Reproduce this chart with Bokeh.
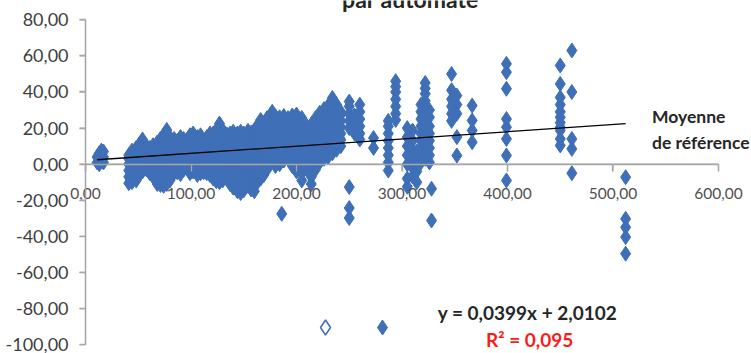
from bokeh.plotting import figure
from bokeh.models import Range1d, FixedTicker, CustomJSTickFormatter, Label, ColumnDataSource
from bokeh.embed import file_html
from bokeh.resources import INLINE

# ---- data: columns of points (x, list of y) ----
col_x = [11, 13, 15, 17, 41, 44, 48, 51, 54, 58, 61, 64, 68, 71, 74, 77, 80, 84, 87, 90,
         93, 96, 99, 102, 106, 109, 112, 115, 118, 121, 124, 127, 130, 134, 137, 140, 144,
         147, 150, 154, 157, 160, 163, 166, 169, 172, 175, 177, 180, 184, 186, 188, 192,
         196, 200, 205, 210, 214, 218, 222, 226, 230, 234, 238, 242, 250, 255, 260, 273,
         281.5, 287, 294, 305, 310, 314, 318, 322, 326, 328, 347, 352, 366.5, 399, 450,
         461, 512]
col_y = [
    [1, 4], [0, 3, 6], [2, 5, 7.5], [1, 4, 7],
    [-10.5, -7, -3.5, 0, 3, 5],
    [-10, -6.5, -3, 0.5, 4, 7.5],
    [-9, -5, -1.5, 2, 5.5, 9],
    [-6, -2.5, 1, 4.5, 8, 11],
    [-4, -0.5, 3, 6.5, 10, 13.7],
    [-3, 0.5, 4, 7, 10],
    [-5, -1.5, 2, 5.5, 9],
    [-7, -3.5, 0, 3.5, 7, 10.5],
    [-11, -7.5, -4, -0.5, 3, 6.5, 10, 12],
    [-11.5, -8, -4.5, -1, 2.5, 6, 9.5, 14],
    [-12, -8.5, -5, -1.5, 2, 5.5, 9, 12.5, 16],
    [-11, -7.5, -2, 1.5, 5, 8.5, 12, 15.5, 19],
    [-9, -5.5, -2, 1.5, 5, 8.5, 12, 15],
    [-5, -1.5, 2, 5.5, 9, 12.5, 14],
    [-4.5, -1, 2.5, 6, 9.5, 13],
    [-5.5, -2, 1.5, 5, 8.5, 12, 15],
    [-3, 0.5, 4, 7.5, 11, 14],
    [-1, 2.5, 6, 9.5, 13],
    [-5, -1.5, 2, 5.5, 9, 12.5, 16],
    [-4, 0, 3.5, 7, 10.5, 14, 17],
    [-6, -2.5, 1, 4.5, 8, 11.5, 15],
    [-5, -1.5, 2, 5.5, 9, 12.5, 16],
    [-4.5, -1, 2.5, 6, 9.5, 13],
    [-5, -1.5, 2, 5.5, 9, 12.5, 15],
    [-6, -2.5, 1, 4.5, 8, 11.5, 15, 17],
    [-8, -4.5, -1, 2.5, 6, 9.5, 13, 17],
    [-9.5, -6, -2.5, 1, 4.5, 8, 11.5, 15, 19],
    [-10, -6.5, -3, 0.5, 4, 7.5, 11, 14.5, 18.5, 22.5],
    [-9, -5.5, -2, 1.5, 5, 8.5, 12, 15.5, 19],
    [-8, -4.5, -1, 2.5, 6, 9.5, 13, 16.5],
    [-11, -7.5, -4, -0.5, 3, 6.5, 10, 13.5, 17],
    [-13, -9.5, -6, -2.5, 1, 4.5, 8, 11.5, 15, 18],
    [-15, -11, -7.5, -4, -0.5, 3, 6.5, 10, 13.5, 17],
    [-16, -12.5, -9, -5.5, -2, 1.5, 5, 8.5, 12, 15.5, 18],
    [-14.5, -11, -7.5, -4, -0.5, 3, 6.5, 10, 13.5, 17],
    [-12, -8.5, -5, -1.5, 2, 5.5, 9, 12.5, 16, 18.5],
    [-14, -10.5, -7, -3.5, 0, 3.5, 7, 10.5, 14, 17.5],
    [-15, -11.5, -8, -4.5, -1, 2.5, 6, 9.5, 13, 16.5, 18.5],
    [-10, -6.5, -3, 0.5, 4, 7.5, 11, 14.5, 18, 21.5],
    [-8, -4.5, -1, 2.5, 6, 9.5, 13, 16.5, 20, 24.5],
    [-6, -2.5, 1, 4.5, 8, 11.5, 15, 18.5, 22],
    [-3, 0.5, 4, 7.5, 11, 14.5, 18, 21.5, 25.5],
    [1, 4.5, 8, 11.5, 15, 18.5, 22, 26],
    [29],
    [-1, 2.5, 6, 9.5, 13, 16.5, 20, 23.5, 26.5],
    [0, 3.5, 7, 10.5, 14, 17.5, 21, 24.5, 26],
    [-27.5],
    [2, 5.5, 9, 12.5, 16, 19.5, 23, 26.7],
    [4, 8, 11.5, 15, 18.5, 22, 25.5],
    [-1, 2.5, 6, 9.5, 13, 16.5, 20, 23.5, 27],
    [-4, -0.5, 3, 6.5, 10, 13.5, 17, 20.5, 24, 27.5],
    [-9, -5, -1, 2.5, 6, 9.5, 13, 16.5, 20, 23, 25.6],
    [-3, 1, 5, 9, 13, 17, 21],
    [-11, -7, -3, 1, 4.5, 8, 11.5, 15, 18.5, 22],
    [-3, 1, 4.5, 8, 11.5, 15, 18.5, 22, 25.5],
    [1, 4.5, 8, 11.5, 15, 18.5, 22, 25.5, 28.5],
    [3, 6.5, 10, 13.5, 17, 20.5, 24, 27.5, 30.5],
    [4, 7.5, 11, 14.5, 18, 21.5, 25, 28.5, 32.5],
    [6, 9.5, 13, 16.5, 20, 23.5, 27, 30.5, 34, 36.7],
    [8, 11.5, 15, 18.5, 22, 25.5, 29, 33],
    [10, 13.5, 17, 20.5, 24, 27.5, 29],
    [-29.8, -24.3, -12.7, 20, 24, 28, 32, 34.7],
    [17, 22, 27],
    [13.7, 17, 21, 25, 29, 33],
    [9, 14.5],
    [-90.5],
    [-3.5, 1, 5, 9, 13, 17, 21, 24],
    [24.5, 28, 32, 36, 40, 43, 46],
    [-12.5, -8, 0, 5, 10, 15, 20],
    [-6.8, -2, 3, 8, 13, 18.6],
    [-10, -4, 2, 7],
    [1, 5, 9, 13, 17, 21, 25, 29, 33],
    [3, 7, 11, 15, 19, 23, 27, 31, 35, 39, 42, 45],
    [1, 5, 9, 13, 17, 21, 26, 30],
    [-31.2, -13.6],
    [24, 28, 32, 36, 41, 50],
    [4.8, 15, 28, 33, 38],
    [12.2, 18.7, 24.2, 32.5],
    [-9, 4.8, 14, 20.5, 25, 41.8, 51, 55.6],
    [10.4, 14, 18.7, 20.5, 23, 26, 29, 33, 37, 44.5, 54.7],
    [-5, 8.5, 14, 40, 63],
    [-49.6, -40.4, -35, -30.3, -7.2],
]
hollow_x = [227.5]
hollow_y = [-90.5]

slope = 0.0399
intercept = 2.0102
x_ticks = [0, 100, 200, 300, 400, 500, 600]
y_ticks = [-100, -80, -60, -40, -20, 0, 20, 40, 60, 80]
title_text = "par automate"
line_label = "Moyenne\nde référence"
eq_text = "y = 0,0399x + 2,0102"
r2_text = "R² = 0,095"

xs = [x for x, ys in zip(col_x, col_y) for _ in ys]
ys_flat = [y for ys in col_y for y in ys]

FONT = "Lato"
BLUE = "#3f6fb7"
AXIS = "#a6a6a6"

# the frame fills the whole canvas; both axes cross at 0 inside it
p = figure(width=751, height=353, output_backend="svg", toolbar_location=None,
           x_range=Range1d(-80.6, 631.3), y_range=Range1d(-104.9, 90.7),
           min_border_left=0, min_border_right=0, min_border_top=0, min_border_bottom=0)
p.outline_line_color = None
p.grid.visible = False
p.background_fill_color = "white"
p.border_fill_color = "white"

fmt = CustomJSTickFormatter(code="return tick.toFixed(2).replace('.', ',');")

for ax, ticks, bnds in ((p.xaxis, x_ticks, (0, 600)), (p.yaxis, y_ticks, (-100, 80))):
    ax.fixed_location = 0
    ax.bounds = bnds
    ax.ticker = FixedTicker(ticks=ticks)
    ax.formatter = fmt
    ax.axis_line_color = AXIS
    ax.axis_line_width = 1.3
    ax.major_tick_line_color = AXIS
    ax.major_tick_line_width = 1.3
    ax.major_tick_in = 0
    ax.minor_tick_line_color = None
    ax.major_label_text_font = FONT

p.xaxis.major_tick_out = 7
p.xaxis.major_label_standoff = 17
p.xaxis.major_label_text_font_size = "15.5px"
p.xaxis.major_label_text_color = "#505050"

p.yaxis.major_tick_out = 6
p.yaxis.major_label_standoff = 11
p.yaxis.major_label_text_font_size = "18px"
p.yaxis.major_label_text_color = "#404040"

# axis lines and ticks drawn again as plain segments (same place, same colour)
x_tick_len = 7 / 1.805
y_tick_len = 6 / 1.055
p.segment(x0=[0], y0=[0], x1=[600], y1=[0], line_color=AXIS, line_width=1.3)
p.segment(x0=[0], y0=[-100], x1=[0], y1=[80], line_color=AXIS, line_width=1.3)
p.segment(x0=x_ticks, y0=[0] * len(x_ticks), x1=x_ticks, y1=[-x_tick_len] * len(x_ticks),
          line_color=AXIS, line_width=1.3)
p.segment(x0=[0] * len(y_ticks), y0=y_ticks, x1=[-y_tick_len] * len(y_ticks), y1=y_ticks,
          line_color=AXIS, line_width=1.3)

src = ColumnDataSource(dict(x=xs, y=ys_flat))
p.scatter("x", "y", source=src, marker="diamond", size=15, fill_color=BLUE,
          line_color=BLUE, line_width=1)
p.scatter(hollow_x, hollow_y, marker="diamond", size=15, fill_color="white",
          line_color=BLUE, line_width=1.5)

tx = [min(xs), max(xs)]
ty = [slope * v + intercept for v in tx]
p.line(tx, ty, line_color="black", line_width=1.3)

p.add_layout(Label(x=308, y=91.6, text=title_text, text_align="center",
                   text_baseline="alphabetic", text_font=FONT, text_font_style="bold",
                   text_font_size="23px", text_color="#262626"))
p.add_layout(Label(x=537, y=32.0, text=line_label, text_align="left",
                   text_baseline="top", text_font=FONT, text_font_style="bold",
                   text_font_size="17.5px", text_color="#262626", text_line_height=1.2))
p.add_layout(Label(x=419, y=-82.0, text=eq_text, text_align="center",
                   text_baseline="alphabetic", text_font=FONT, text_font_style="bold",
                   text_font_size="19px", text_color="#262626"))
p.add_layout(Label(x=421, y=-97.0, text=r2_text, text_align="center",
                   text_baseline="alphabetic", text_font=FONT, text_font_style="bold",
                   text_font_size="19px", text_color="#ff1a1a"))

open("out.html", "w").write(file_html(p, INLINE))
